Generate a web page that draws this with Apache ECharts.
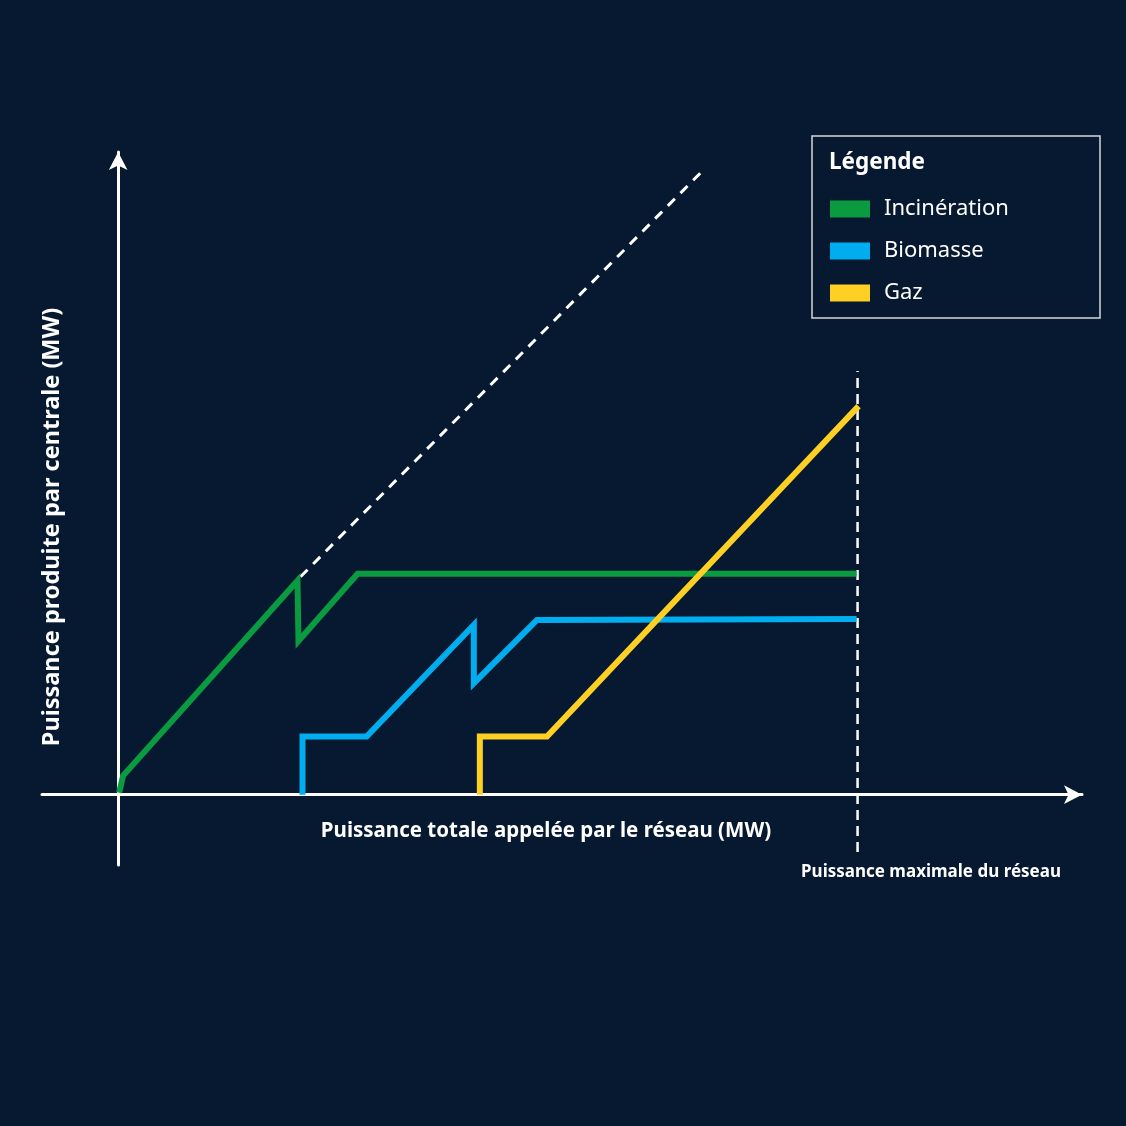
<!DOCTYPE html>
<html>
<head>
<meta charset="utf-8">
<title>Puissance par centrale</title>
<script src="https://cdn.jsdelivr.net/npm/echarts@6/dist/echarts.min.js"></script>
<style>
  html, body { margin: 0; padding: 0; background: #061930; }
  #chart { width: 1126px; height: 1126px; }
</style>
</head>
<body>
<div id="chart"></div>
<script type="text/javascript">
	// schematic units (no graduations on the axes)
	var seriesNames = ['Incinération', 'Biomasse', 'Gaz'];
	var incineration = [[1, 2], [5, 19], [179, 213], [180, 153], [239, 220], [737, 220]];
	var biomasse = [[184, 0], [184, 58], [248, 58], [355, 169], [355, 111], [418, 174], [737, 175]];
	var gaz = [[361, 0], [361, 58], [428, 58], [739, 387]];
	var demandeSansLimite = [[182, 217], [585, 623]];
	var puissanceMax = [[738, -57], [738, 422]];
	var xRange = [-76, 962];
	var yRange = [-70, 640];

	var colors = ['#0a9b41', '#00aeef', '#fdd023'];
	var font = '"Noto Sans", "Open Sans", sans-serif';

	var myChart = echarts.init(document.getElementById('chart'));

	function axis(min, max) {
		return {
			type: 'value',
			min: min,
			max: max,
			axisLine: {
				onZero: true,
				symbol: ['none', 'arrow'],
				symbolSize: [14, 18],
				lineStyle: { color: '#ffffff', width: 3 }
			},
			axisTick: { show: false },
			axisLabel: { show: false },
			splitLine: { show: false }
		};
	}

	function lineSerie(name, data, color) {
		return {
			name: name,
			type: 'line',
			data: data,
			symbol: 'none',
			lineStyle: { color: color, width: 6, join: 'miter' },
			itemStyle: { color: color },
			z: 3
		};
	}

	var option = {
		backgroundColor: '#061930',
		animation: false,
		grid: { left: 42, right: 44, top: 152, bottom: 261, containLabel: false, outerBoundsMode: 'none' },
		xAxis: axis(xRange[0], xRange[1]),
		yAxis: axis(yRange[0], yRange[1]),
		legend: {
			data: seriesNames,
			orient: 'vertical',
			left: 830,
			top: 198,
			padding: 0,
			icon: 'rect',
			itemWidth: 40,
			itemHeight: 17,
			itemGap: 20,
			textStyle: { color: '#ffffff', fontSize: 22, fontFamily: font, padding: [0, 0, 0, 9] }
		},
		graphic: [{
			type: 'rect',
			shape: { x: 812, y: 136, width: 288, height: 182 },
			style: { fill: 'none', stroke: '#d8d8d8', lineWidth: 1.5 }
		}, {
			type: 'text',
			x: 829,
			y: 163,
			style: { text: 'Légende', fill: '#ffffff', font: 'bold 22.5px ' + font, verticalAlign: 'middle' }
		}, {
			type: 'text',
			x: 546,
			y: 831,
			style: {
				text: 'Puissance totale appelée par le réseau (MW)', fill: '#ffffff',
				font: 'bold 20.5px ' + font, align: 'center', verticalAlign: 'middle'
			}
		}, {
			type: 'text',
			x: 52,
			y: 527,
			rotation: Math.PI / 2,
			style: {
				text: 'Puissance produite par centrale (MW)', fill: '#ffffff',
				font: 'bold 23.5px ' + font, align: 'center', verticalAlign: 'middle'
			}
		}, {
			type: 'text',
			x: 931,
			y: 872,
			style: {
				text: 'Puissance maximale du réseau', fill: '#ffffff',
				font: 'bold 17px ' + font, align: 'center', verticalAlign: 'middle'
			}
		}],
		series: [
			lineSerie(seriesNames[0], incineration, colors[0]),
			lineSerie(seriesNames[1], biomasse, colors[1]),
			lineSerie(seriesNames[2], gaz, colors[2]),
			{
				type: 'line',
				data: demandeSansLimite,
				symbol: 'none',
				silent: true,
				lineStyle: { color: '#ffffff', width: 3, type: [10, 8] },
				z: 2
			},
			{
				type: 'line',
				data: puissanceMax,
				symbol: 'none',
				silent: true,
				lineStyle: { color: '#ffffff', width: 2.5, type: [10, 6] },
				z: 2
			}
		]
	};
	myChart.setOption(option);
</script>
</body>
</html>
